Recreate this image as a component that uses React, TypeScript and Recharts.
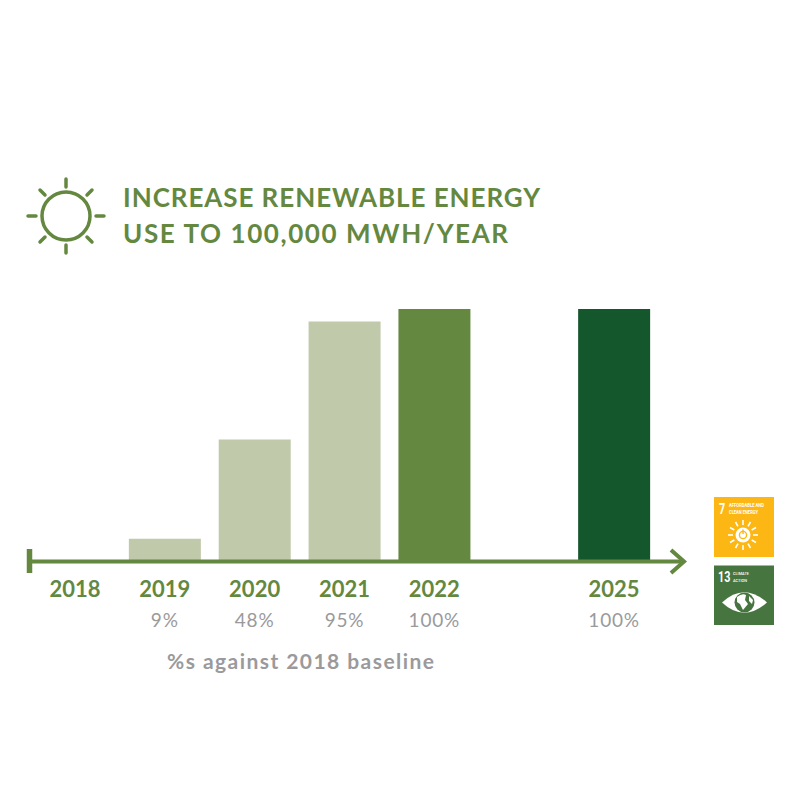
import { Bar, BarChart, Cell, XAxis, YAxis } from "recharts"

const years = ["2018", "2019", "2020", "2021", "2022", "", "2025"]
const shares = [0, 8.5, 48, 95, 100, 0, 100]
const shareLabels = ["", "9%", "48%", "95%", "100%", "", "100%"]
const barColors = ["#c0c9aa", "#c0c9aa", "#c0c9aa", "#c0c9aa", "#64883f", "#c0c9aa", "#15572d"]

const chartData = years.map((year, i) => ({ slot: i, year, share: shares[i], label: shareLabels[i] }))

const GREEN = "#64883f"
const GRAY = "#9a9a9c"
const FONT = "Lato, sans-serif"
const BADGE_FONT = "Roboto, sans-serif"

function YearTick({ x, y, payload }: any) {
  const i = payload.value
  return (
    <g>
      <text x={x} y={y + 31} textAnchor="middle" fontFamily={FONT} fontSize={22} fontWeight={700} fill={GREEN}>
        {years[i]}
      </text>
      <text x={x} y={y + 61} textAnchor="middle" fontFamily={FONT} fontSize={19} letterSpacing={0.8} fill={GRAY}>
        {shareLabels[i]}
      </text>
    </g>
  )
}

const sunRays = [
  [66, 179, 66, 187],
  [66, 245, 66, 253],
  [28, 216, 36, 216],
  [96, 216, 104, 216],
  [40, 190, 45, 195],
  [87, 195, 92, 190],
  [40, 242, 45, 237],
  [87, 237, 92, 242],
]

const badgeRayAngles = [0, 30, 60, 90, 120, 150, 180, 210, 240, 270, 300, 330]

function Overlay() {
  return (
    <svg width={800} height={800} style={{ position: "absolute", left: 0, top: 0 }}>
      {/* heading */}
      <circle cx={66} cy={216} r={24} fill="none" stroke={GREEN} strokeWidth={3.5} />
      {sunRays.map((r, i) => (
        <line key={i} x1={r[0]} y1={r[1]} x2={r[2]} y2={r[3]} stroke={GREEN} strokeWidth={3.5} strokeLinecap="round" />
      ))}
      <text x={123} y={207} fontFamily={FONT} fontSize={26} fontWeight={700} textLength={417} fill={GREEN}>
        INCREASE RENEWABLE ENERGY
      </text>
      <text x={123} y={243} fontFamily={FONT} fontSize={26} fontWeight={700} textLength={385} fill={GREEN}>
        USE TO 100,000 MWH/YEAR
      </text>

      {/* axis with arrow */}
      <line x1={29} y1={561.5} x2={684} y2={561.5} stroke={GREEN} strokeWidth={4} />
      <line x1={29.5} y1={549} x2={29.5} y2={573} stroke={GREEN} strokeWidth={5.5} />
      <polyline points="671,550 684,561.5 671,573" fill="none" stroke={GREEN} strokeWidth={4} />

      <text x={167} y={669} fontFamily={FONT} fontSize={21} fontWeight={700} textLength={267} fill={GRAY}>
        %s against 2018 baseline
      </text>

      {/* SDG 7 */}
      <rect x={714} y={497} width={60} height={60} fill="#fdb714" />
      <text transform="translate(719,514) scale(0.72,1)" fontFamily={BADGE_FONT} fontSize={15} fontWeight={700} fill="#fff">7</text>
      <text x={729} y={507} fontFamily={BADGE_FONT} fontSize={4.8} fontWeight={700} textLength={35} lengthAdjust="spacingAndGlyphs" fill="#fff">AFFORDABLE AND</text>
      <text x={729} y={514} fontFamily={BADGE_FONT} fontSize={4.8} fontWeight={700} textLength={29} lengthAdjust="spacingAndGlyphs" fill="#fff">CLEAN ENERGY</text>
      <g transform="translate(743,535)">
        {badgeRayAngles.map((a) => (
          <line key={a} x1={0} y1={-10} x2={0} y2={-15} stroke="#fff" strokeWidth={1.6} transform={`rotate(${a})`} />
        ))}
        <circle r={7.5} fill="#fff" />
        <circle r={3.6} fill="none" stroke="#fdb714" strokeWidth={1.4} />
        <line x1={0} y1={-5.5} x2={0} y2={-1} stroke="#fdb714" strokeWidth={1.4} />
      </g>

      {/* SDG 13 */}
      <rect x={714} y={565.5} width={60} height={59.5} fill="#47753f" />
      <text transform="translate(718,582) scale(0.72,1)" fontFamily={BADGE_FONT} fontSize={15} fontWeight={700} fill="#fff">13</text>
      <text x={733} y={574.5} fontFamily={BADGE_FONT} fontSize={4.4} fontWeight={500} textLength={16} lengthAdjust="spacingAndGlyphs" fill="#fff">CLIMATE</text>
      <text x={733} y={581.5} fontFamily={BADGE_FONT} fontSize={4.4} fontWeight={500} textLength={14} lengthAdjust="spacingAndGlyphs" fill="#fff">ACTION</text>
      <path d="M722 602.5 Q744 582 767 602.5 Q744 623 722 602.5 Z" fill="#fff" />
      <circle cx={744.5} cy={602.5} r={10} fill="#47753f" />
      <path d="M737 597 Q742 593 746 595 L745 600 L748 604 L743 610 L740 604 L737 602 Z M749 596 L753 600 L752 604 L749 601 Z" fill="#fff" />
    </svg>
  )
}

export default function App() {
  return (
    <div style={{ position: "absolute", left: 0, top: 0, width: 800, height: 800, background: "#fff" }}>
      <BarChart
        width={800}
        height={800}
        data={chartData}
        margin={{ top: 309, right: 141, left: 30, bottom: 160 }}
      >
        <XAxis
          dataKey="slot"
          type="category"
          height={80}
          axisLine={false}
          tickLine={false}
          interval={0}
          tick={<YearTick />}
          tickMargin={0}
        />
        <YAxis hide domain={[0, 100]} />
        <Bar dataKey="share" barSize={72} isAnimationActive={false}>
          {chartData.map((d, i) => (
            <Cell key={d.slot} fill={barColors[i]} />
          ))}
        </Bar>
      </BarChart>
      <Overlay />
    </div>
  )
}
